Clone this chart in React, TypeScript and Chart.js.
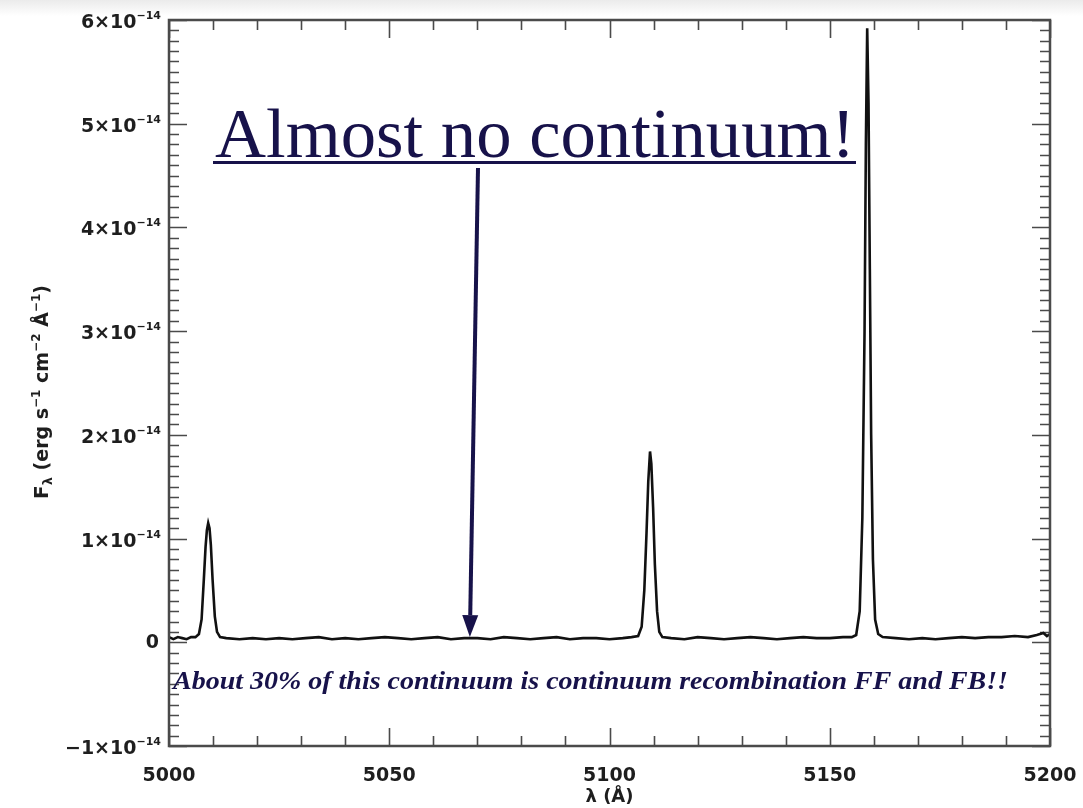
import { useEffect, useRef } from "react";
import { Chart, registerables } from "chart.js";

Chart.register(...registerables);

// Spectrum: wavelength in Å, flux density in units of 1e-14 erg s^-1 cm^-2 Å^-1
const wavelength = [
  5000.0, 5001.0, 5002.0, 5003.0, 5004.0, 5005.0, 5006.0, 5006.8, 5007.4, 5007.9,
  5008.3, 5008.6, 5008.9, 5009.2, 5009.5, 5009.9, 5010.4, 5010.9, 5011.6, 5013.0,
  5016.0, 5019.0, 5022.0, 5025.0, 5028.0, 5031.0, 5034.0, 5037.0, 5040.0, 5043.0,
  5046.0, 5049.0, 5052.0, 5055.0, 5058.0, 5061.0, 5064.0, 5067.0, 5070.0, 5073.0,
  5076.0, 5079.0, 5082.0, 5085.0, 5088.0, 5091.0, 5094.0, 5097.0, 5100.0, 5103.0,
  5105.0, 5106.5, 5107.3, 5107.9, 5108.4, 5108.8, 5109.2, 5109.5, 5109.9, 5110.3,
  5110.8, 5111.3, 5112.0, 5114.0, 5117.0, 5120.0, 5123.0, 5126.0, 5129.0, 5132.0,
  5135.0, 5138.0, 5141.0, 5144.0, 5147.0, 5150.0, 5153.0, 5155.0, 5156.0, 5156.8,
  5157.4, 5157.9, 5158.2, 5158.5, 5158.8, 5159.1, 5159.4, 5159.8, 5160.3, 5161.0,
  5162.0, 5165.0, 5168.0, 5171.0, 5174.0, 5177.0, 5180.0, 5183.0, 5186.0, 5189.0,
  5192.0, 5195.0, 5197.0, 5198.5, 5199.3, 5200.0,
];
const flux = [
  0.05, 0.03, 0.05, 0.04, 0.03, 0.05, 0.05, 0.08, 0.22, 0.6,
  0.92, 1.08, 1.15, 1.1, 0.94, 0.6, 0.25, 0.1, 0.05, 0.04,
  0.03, 0.04, 0.03, 0.04, 0.03, 0.04, 0.05, 0.03, 0.04, 0.03,
  0.04, 0.05, 0.04, 0.03, 0.04, 0.05, 0.03, 0.04, 0.04, 0.03,
  0.05, 0.04, 0.03, 0.04, 0.05, 0.03, 0.04, 0.04, 0.03, 0.04,
  0.05, 0.06, 0.15, 0.5, 1.05, 1.55, 1.84, 1.72, 1.3, 0.75,
  0.3, 0.1, 0.05, 0.04, 0.03, 0.05, 0.04, 0.03, 0.04, 0.05,
  0.04, 0.03, 0.04, 0.05, 0.04, 0.04, 0.05, 0.05, 0.07, 0.3,
  1.2, 3.0, 4.8, 5.92, 5.2, 3.6, 2.0, 0.8, 0.22, 0.08,
  0.05, 0.04, 0.03, 0.04, 0.03, 0.04, 0.05, 0.04, 0.05, 0.05,
  0.06, 0.05, 0.07, 0.09, 0.06, 0.08,
];

// Axis ranges and labelled ticks
const xRange = [5000, 5200];
const yRange = [-1, 6];
const xTickValues = [5000, 5050, 5100, 5150, 5200];
const yTickValues = [-1, 0, 1, 2, 3, 4, 5, 6];
const yExponent = "−14";
const xMinorStep = 10;
const yMinorStep = 0.1;

// Annotation texts and the point the arrow marks
const headline = "Almost no continuum!";
const footnote = "About 30% of this continuum is continuum recombination FF and FB!!";
const xTitle = "λ (Å)";
const arrowTip = { x: 5068.3, y: 0.05 };

const INK = "#111111";
const LABEL = "#1e1e1e";
const FRAME = "#4a4a4a";
const NAVY = "#17124a";
const SANS = '"DejaVu Sans", sans-serif';
const SERIF = '"Liberation Serif", "DejaVu Serif", serif';

type Run = { t: string; size: number; dy?: number; bold?: boolean };

function runsWidth(ctx: CanvasRenderingContext2D, runs: Run[]) {
  let w = 0;
  for (const r of runs) {
    ctx.font = `${r.bold ? "bold " : ""}${r.size}px ${SANS}`;
    w += ctx.measureText(r.t).width;
  }
  return w;
}

function drawRuns(ctx: CanvasRenderingContext2D, runs: Run[], x: number, y: number) {
  let cx = x;
  ctx.textBaseline = "alphabetic";
  ctx.textAlign = "left";
  for (const r of runs) {
    ctx.font = `${r.bold ? "bold " : ""}${r.size}px ${SANS}`;
    ctx.fillText(r.t, cx, y + (r.dy || 0));
    cx += ctx.measureText(r.t).width;
  }
}

function fitText(
  ctx: CanvasRenderingContext2D,
  text: string,
  font: string,
  x: number,
  baseline: number,
  width: number
) {
  ctx.save();
  ctx.font = font;
  ctx.textAlign = "left";
  ctx.textBaseline = "alphabetic";
  const w = ctx.measureText(text).width;
  ctx.translate(x, baseline);
  ctx.scale(width / w, 1);
  ctx.fillText(text, 0, 0);
  ctx.restore();
}

const framePlugin = {
  id: "frameAndTicks",
  beforeDatasetsDraw(chart: any) {
    const { ctx, chartArea: a, scales } = chart;
    const xs = scales.x;
    const ys = scales.y;
    ctx.save();
    ctx.strokeStyle = FRAME;
    ctx.lineWidth = 1.6;
    ctx.beginPath();
    const nx = Math.round((xRange[1] - xRange[0]) / xMinorStep);
    for (let i = 0; i <= nx; i++) {
      const px = Math.round(xs.getPixelForValue(xRange[0] + i * xMinorStep)) + 0.5;
      const len = i % 5 === 0 ? 18 : 10;
      ctx.moveTo(px, a.bottom);
      ctx.lineTo(px, a.bottom - len);
      ctx.moveTo(px, a.top);
      ctx.lineTo(px, a.top + len);
    }
    const ny = Math.round((yRange[1] - yRange[0]) / yMinorStep);
    for (let i = 0; i <= ny; i++) {
      const py = Math.round(ys.getPixelForValue(yRange[0] + i * yMinorStep)) + 0.5;
      const len = i % 10 === 0 ? 18 : 10;
      ctx.moveTo(a.left, py);
      ctx.lineTo(a.left + len, py);
      ctx.moveTo(a.right, py);
      ctx.lineTo(a.right - len, py);
    }
    ctx.stroke();
    ctx.restore();
  },
  afterDatasetsDraw(chart: any) {
    const { ctx, chartArea: a } = chart;
    ctx.save();
    ctx.strokeStyle = FRAME;
    ctx.lineWidth = 2.5;
    ctx.strokeRect(a.left, a.top, a.right - a.left, a.bottom - a.top);
    ctx.restore();
  },
  afterDraw(chart: any) {
    const { ctx, chartArea: a, scales } = chart;
    const xs = scales.x;
    const ys = scales.y;
    ctx.save();
    ctx.fillStyle = LABEL;

    // y tick labels with superscript exponent
    for (const v of yTickValues) {
      const py = ys.getPixelForValue(v);
      if (v === 0) {
        ctx.font = `bold 19px ${SANS}`;
        ctx.textAlign = "right";
        ctx.textBaseline = "middle";
        ctx.fillText("0", 159, py + 1);
        continue;
      }
      const base: Run = { t: `${v < 0 ? "−" : ""}${Math.abs(v)}×10`, size: 19, bold: true };
      const sup: Run = { t: yExponent, size: 11, dy: -9, bold: true };
      const w = runsWidth(ctx, [base, sup]);
      drawRuns(ctx, [base, sup], 161 - w, py + 8);
    }

    // x tick labels
    ctx.font = `bold 19px ${SANS}`;
    ctx.textAlign = "center";
    ctx.textBaseline = "middle";
    for (const v of xTickValues) {
      ctx.fillText(String(v), xs.getPixelForValue(v), a.bottom + 30);
    }

    // x title
    ctx.font = `bold 18px ${SANS}`;
    ctx.fillText(xTitle, (a.left + a.right) / 2, 797);

    // y title, rotated
    const yRuns: Run[] = [
      { t: "F", size: 20, bold: true },
      { t: "λ", size: 13, dy: 4, bold: true },
      { t: " (erg s", size: 19, bold: true },
      { t: "−1", size: 12, dy: -8, bold: true },
      { t: " cm", size: 19, bold: true },
      { t: "−2", size: 12, dy: -8, bold: true },
      { t: " Å", size: 19, bold: true },
      { t: "−1", size: 12, dy: -8, bold: true },
      { t: ")", size: 19, bold: true },
    ];
    ctx.save();
    ctx.translate(48, (a.top + a.bottom) / 2 + 9);
    ctx.rotate(-Math.PI / 2);
    const tw = runsWidth(ctx, yRuns);
    drawRuns(ctx, yRuns, -tw / 2, 0);
    ctx.restore();

    // headline with underline
    ctx.fillStyle = NAVY;
    fitText(ctx, headline, `70px ${SERIF}`, 215, 157, 640);
    ctx.fillRect(213, 161, 643, 3);

    // arrow down to the continuum
    const tipX = xs.getPixelForValue(arrowTip.x);
    const tipY = ys.getPixelForValue(arrowTip.y);
    const startX = 478;
    const startY = 168;
    const ang = Math.atan2(tipY - startY, tipX - startX);
    const headLen = 22;
    const headHalf = 8;
    const bx = tipX - headLen * Math.cos(ang);
    const by = tipY - headLen * Math.sin(ang);
    ctx.strokeStyle = NAVY;
    ctx.lineWidth = 4;
    ctx.beginPath();
    ctx.moveTo(startX, startY);
    ctx.lineTo(bx, by);
    ctx.stroke();
    ctx.beginPath();
    ctx.moveTo(tipX, tipY);
    ctx.lineTo(bx - headHalf * Math.sin(ang), by + headHalf * Math.cos(ang));
    ctx.lineTo(bx + headHalf * Math.sin(ang), by - headHalf * Math.cos(ang));
    ctx.closePath();
    ctx.fill();

    // footnote
    fitText(ctx, footnote, `italic bold 26px ${SERIF}`, 173, 689, 835);
    ctx.restore();
  },
};

export default function App() {
  const canvasRef = useRef<HTMLCanvasElement>(null);

  useEffect(() => {
    const canvas = canvasRef.current;
    if (!canvas) return;
    const points = wavelength.map((w, i) => ({ x: w, y: flux[i] }));
    const chart = new Chart(canvas, {
      type: "line",
      data: {
        datasets: [
          {
            data: points,
            borderColor: INK,
            borderWidth: 2.6,
            pointRadius: 0,
            tension: 0,
            fill: false,
          },
        ],
      },
      options: {
        animation: false,
        responsive: true,
        maintainAspectRatio: false,
        layout: { padding: { top: 20, right: 33, left: 0, bottom: 0 } },
        plugins: { legend: { display: false }, tooltip: { enabled: false } },
        scales: {
          x: {
            type: "linear",
            min: xRange[0],
            max: xRange[1],
            grid: { display: false },
            border: { display: false },
            ticks: { display: false },
            afterFit: (s: any) => {
              s.height = 62;
            },
          },
          y: {
            type: "linear",
            min: yRange[0],
            max: yRange[1],
            grid: { display: false },
            border: { display: false },
            ticks: { display: false },
            afterFit: (s: any) => {
              s.width = 169;
            },
          },
        },
      },
      plugins: [framePlugin],
    });
    return () => chart.destroy();
  }, []);

  return (
    <div
      style={{
        position: "absolute",
        left: 0,
        top: 0,
        width: 1083,
        height: 808,
        background: "linear-gradient(#ebebeb 0px, #ffffff 16px)",
      }}
    >
      <canvas ref={canvasRef} />
    </div>
  );
}
